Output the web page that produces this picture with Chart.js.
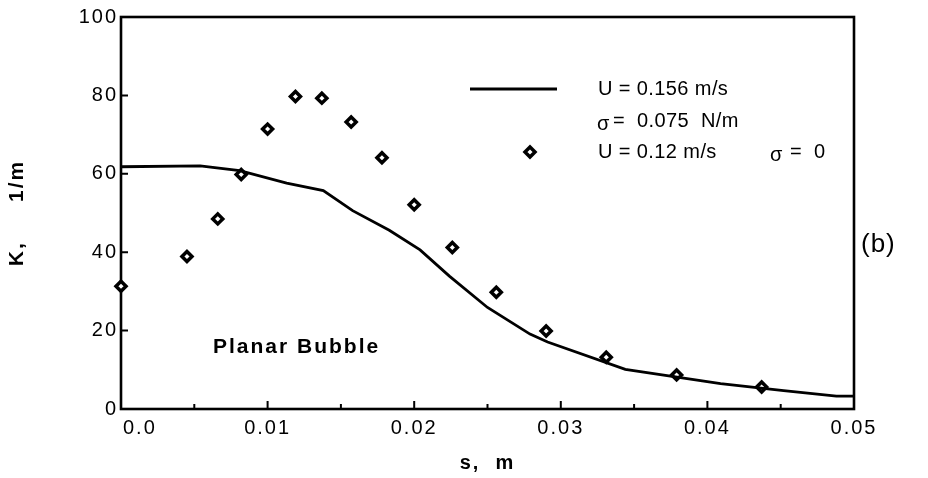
<!DOCTYPE html>
<html>
<head>
<meta charset="utf-8">
<script src="https://cdn.jsdelivr.net/npm/chart.js@4/dist/chart.umd.min.js"></script>
<style>
  html, body { margin: 0; padding: 0; background: #fff; }
  #wrap { width: 928px; height: 478px; position: relative; }
</style>
</head>
<body>
<div id="wrap"><canvas id="c" width="928" height="478"></canvas></div>
<script>
// ---- data ----
const lineS = [0, 0.0054, 0.0081, 0.0113, 0.0138, 0.0158, 0.0183, 0.0204, 0.0224, 0.0250, 0.0279, 0.0291, 0.0344, 0.0409, 0.0452, 0.0488, 0.0500];
const lineK = [61.8, 62.0, 60.8, 57.6, 55.7, 50.6, 45.6, 40.6, 33.9, 25.9, 19.1, 17.1, 10.1, 6.5, 4.7, 3.3, 3.3];

const dotS = [0, 0.0045, 0.0066, 0.0082, 0.0100, 0.0119, 0.0137, 0.0157, 0.0178, 0.0200, 0.0226, 0.0256, 0.0290, 0.0331, 0.0379, 0.0437];
const dotK = [31.3, 38.9, 48.5, 59.8, 71.4, 79.7, 79.3, 73.2, 64.1, 52.1, 41.2, 29.8, 19.9, 13.2, 8.7, 5.6];

const xTickValues = [0, 0.01, 0.02, 0.03, 0.04, 0.05];
const xMinorValues = [0.005, 0.015, 0.025, 0.035, 0.045];
const yTickValues = [20, 40, 60, 80];

const seriesLabels = ['U = 0.156 m/s  σ = 0.075 N/m', 'U = 0.12 m/s  σ = 0'];

const FONT = "'Liberation Sans', Arial, Helvetica, sans-serif";

const toXY = (xs, ys) => xs.map((x, i) => ({x: x, y: ys[i]}));

const decor = {
  id: 'decor',
  beforeDraw(chart) {
    chart.ctx.letterSpacing = '2px';
  },
  beforeDatasetsDraw(chart) {
    const ctx = chart.ctx, a = chart.chartArea;
    const xs = chart.scales.x, ys = chart.scales.y;
    ctx.save();
    ctx.strokeStyle = '#000';
    ctx.lineWidth = 2.6;
    ctx.strokeRect(a.left, a.top, a.right - a.left, a.bottom - a.top);
    ctx.lineWidth = 2;
    ctx.beginPath();
    xTickValues.forEach(v => {
      const px = xs.getPixelForValue(v);
      ctx.moveTo(px, a.bottom); ctx.lineTo(px, a.bottom - 8);
    });
    xMinorValues.forEach(v => {
      const px = xs.getPixelForValue(v);
      ctx.moveTo(px, a.bottom); ctx.lineTo(px, a.bottom - 5);
    });
    yTickValues.forEach(v => {
      const py = ys.getPixelForValue(v);
      ctx.moveTo(a.left, py); ctx.lineTo(a.left + 7, py);
    });
    ctx.stroke();
    ctx.restore();
  },
  afterDraw(chart) {
    const ctx = chart.ctx;
    ctx.save();
    ctx.letterSpacing = '0px';
    ctx.fillStyle = '#000';
    ctx.strokeStyle = '#000';
    // legend line
    ctx.lineWidth = 2.8;
    ctx.beginPath();
    ctx.moveTo(470, 89); ctx.lineTo(557, 89);
    ctx.stroke();
    // legend diamond
    ctx.lineWidth = 3.5;
    ctx.fillStyle = '#fff';
    ctx.beginPath();
    ctx.moveTo(530, 147); ctx.lineTo(535, 152); ctx.lineTo(530, 157); ctx.lineTo(525, 152); ctx.closePath();
    ctx.fill(); ctx.stroke();
    ctx.fillStyle = '#000';
    ctx.textBaseline = 'alphabetic';
    ctx.textAlign = 'left';
    ctx.font = '20px ' + FONT;
    ctx.letterSpacing = '0.4px';
    ctx.fillText('U = 0.156 m/s', 598, 95);
    ctx.fillText('σ', 597, 130);
    ctx.fillText('=  0.075  N/m', 613, 127);
    ctx.fillText('U = 0.12 m/s', 598, 158);
    ctx.fillText('σ', 770, 161);
    ctx.fillText('=  0', 790, 158);
    ctx.font = 'bold 21px ' + FONT;
    ctx.letterSpacing = '2px';
    ctx.fillText('Planar Bubble', 213, 353);
    ctx.font = '26px ' + FONT;
    ctx.letterSpacing = '1px';
    ctx.fillText('(b)', 861, 252);
    ctx.restore();
  }
};

new Chart(document.getElementById('c'), {
  type: 'scatter',
  data: {
    datasets: [
      {
        label: seriesLabels[0],
        type: 'line',
        data: toXY(lineS, lineK),
        borderColor: '#000',
        borderWidth: 2.8,
        pointRadius: 0,
        tension: 0,
        fill: false
      },
      {
        label: seriesLabels[1],
        data: toXY(dotS, dotK),
        pointStyle: 'rectRot',
        pointRadius: 5,
        borderWidth: 3.5,
        borderColor: '#000',
        backgroundColor: '#fff',
        clip: false
      }
    ]
  },
  options: {
    responsive: false,
    animation: false,
    events: [],
    layout: { padding: { top: 17, right: 74, left: 0, bottom: 0 } },
    plugins: { legend: { display: false }, tooltip: { enabled: false } },
    scales: {
      x: {
        type: 'linear',
        min: 0, max: 0.05,
        afterFit: s => { s.height = 69; },
        border: { display: false },
        grid: { display: false, drawTicks: false },
        ticks: {
          stepSize: 0.01,
          padding: 7,
          color: '#000',
          font: { family: FONT, size: 20 },
          maxRotation: 0,
          autoSkip: false,
          callback: v => (Math.abs(v) < 1e-9 ? '     0.0' : v.toFixed(2))
        },
        title: {
          display: true,
          text: 's,  m',
          color: '#000',
          font: { family: FONT, size: 20, weight: 'bold' },
          padding: { top: 3, bottom: 3 }
        }
      },
      y: {
        min: 0, max: 100,
        afterFit: s => { s.width = 121; },
        border: { display: false },
        grid: { display: false, drawTicks: false },
        ticks: {
          stepSize: 20,
          padding: 3,
          color: '#000',
          font: { family: FONT, size: 20 }
        },
        title: {
          display: true,
          text: 'K,     1/m',
          color: '#000',
          font: { family: FONT, size: 21, weight: 'bold' },
          padding: { top: 5, bottom: 5 }
        }
      }
    }
  },
  plugins: [decor]
});
</script>
</body>
</html>
